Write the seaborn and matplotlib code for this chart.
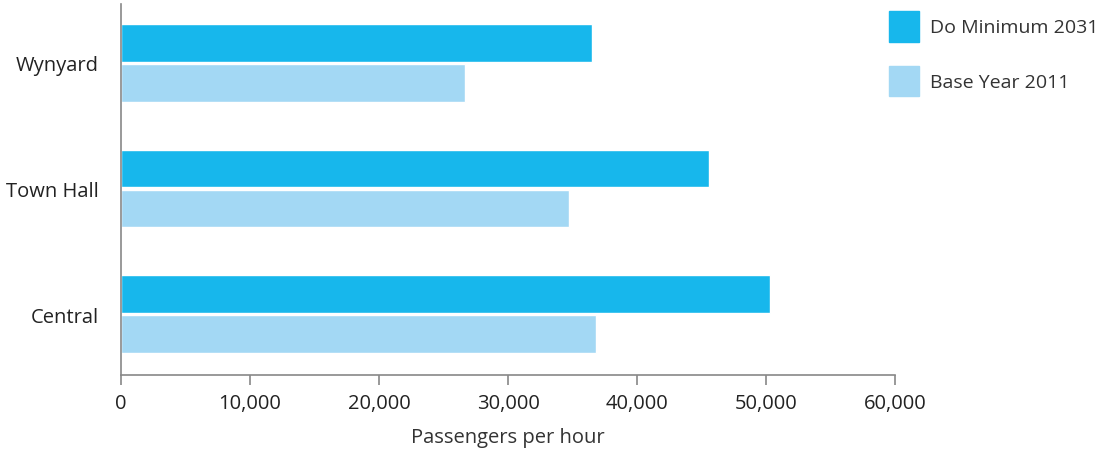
import matplotlib
matplotlib.use("Agg")
import matplotlib.pyplot as plt
import matplotlib.patches as mpatches
import matplotlib.ticker as mticker
import seaborn as sns
import pandas as pd

stations = ["Wynyard", "Town Hall", "Central"]
do_minimum_2031 = [36500, 45600, 50300]
base_year_2011 = [26700, 34700, 36800]
series_names = ["Do Minimum 2031", "Base Year 2011"]
x_ticks = [0, 10000, 20000, 30000, 40000, 50000, 60000]

colors = ["#17B7EC", "#A3D8F4"]

df = pd.DataFrame({
    "Station": stations * 2,
    "Passengers": do_minimum_2031 + base_year_2011,
    "Series": [series_names[0]] * 3 + [series_names[1]] * 3,
})

sns.set_theme(style="white")
plt.rcParams["font.family"] = ["Open Sans", "DejaVu Sans"]

fig = plt.figure(figsize=(11.05, 4.52), dpi=100)
ax = fig.add_axes([121 / 1105, 1 - 376 / 452, (895 - 121) / 1105, (376 - 5) / 452])

sns.barplot(data=df, y="Station", x="Passengers", hue="Series", order=stations,
            hue_order=series_names, palette=colors, orient="h", width=0.64,
            gap=0.07, ax=ax, legend=False, saturation=1, errorbar=None)

ax.set_xlim(0, 60000)
ax.set_ylim(2.486, -0.47)
ax.set_xticks(x_ticks)
ax.xaxis.set_major_formatter(mticker.FuncFormatter(lambda v, p: f"{int(v):,}"))
ax.set_ylabel("")
ax.set_xlabel("Passengers per hour", fontsize=14.5, color="#333333", labelpad=10)

for s in ["top", "right"]:
    ax.spines[s].set_visible(False)
for s in ["left", "bottom"]:
    ax.spines[s].set_color("#888888")
    ax.spines[s].set_linewidth(1.2)

ax.tick_params(axis="x", bottom=True, length=7, width=1.2, color="#888888",
               labelsize=14.5, labelcolor="#222222", pad=6)
ax.tick_params(axis="y", left=False, length=0, labelsize=14.5, labelcolor="#222222", pad=16)

handles = [mpatches.Patch(color=c, label=n) for c, n in zip(colors, series_names)]
fig.legend(handles=handles, loc="upper left", bbox_to_anchor=(889 / 1105, 1 - 12 / 452),
           frameon=False, fontsize=14, handlelength=1.52, handleheight=2.05,
           handletextpad=0.6, labelspacing=1.24, borderpad=0, borderaxespad=0,
           labelcolor="#333333")

fig.savefig("out.png", dpi=100)
